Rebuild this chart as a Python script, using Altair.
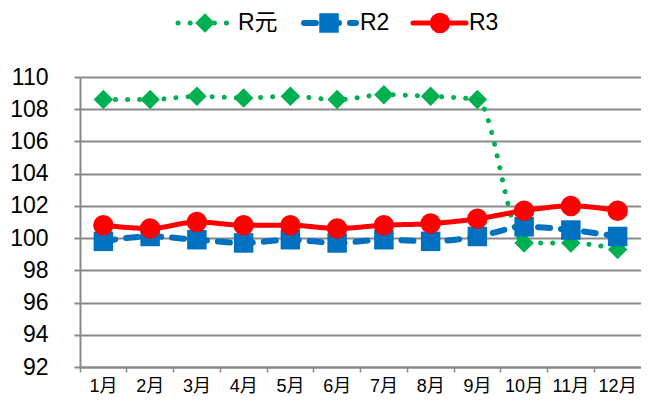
import altair as alt
import pandas as pd

months = ["1月", "2月", "3月", "4月", "5月", "6月", "7月", "8月", "9月", "10月", "11月", "12月"]
r_gen = [108.6, 108.6, 108.8, 108.7, 108.8, 108.6, 108.9, 108.8, 108.6, 99.7, 99.7, 99.3]
r2 = [99.8, 100.1, 99.9, 99.7, 99.9, 99.7, 99.9, 99.8, 100.1, 100.7, 100.5, 100.1]
r3 = [100.8, 100.6, 101.0, 100.8, 100.8, 100.6, 100.8, 100.9, 101.2, 101.7, 102.0, 101.7]
series_names = ["R元", "R2", "R3"]
y_ticks = [92, 94, 96, 98, 100, 102, 104, 106, 108, 110]

rows = []
for name, vals in zip(series_names, [r_gen, r2, r3]):
    for m, v in zip(months, vals):
        rows.append({"month": m, "value": v, "series": name})
df = pd.DataFrame(rows)

FONT = "Liberation Sans, Noto Sans CJK JP"
GRID = "#898989"

styles = {
    "R元": dict(color="#00B050", dash=[0.1, 12], width=5, shape="diamond", size=380),
    "R2": dict(color="#0070C0", dash=[12, 11], width=6, shape="square", size=380),
    "R3": dict(color="#FF0000", dash=[1, 0], width=5, shape="circle", size=420),
}
legend_pos = {
    "R元": dict(x0=98, x1=148, xm=125, xt=158),
    "R2": dict(x0=224, x1=276, xm=249, xt=280),
    "R3": dict(x0=333, x1=386, xm=360, xt=389),
}
LEG_Y = -54

x_enc = alt.X(
    "month:N",
    sort=months,
    scale=alt.Scale(type="band", paddingInner=0, paddingOuter=0),
    axis=alt.Axis(
        title=None, labelAngle=0, bandPosition=0, tickSize=5, tickWidth=1.5,
        tickColor=GRID, domainColor=GRID, domainWidth=2, labelFont=FONT,
        labelFontSize=18, labelColor="#000000", labelPadding=5, grid=False,
    ),
)
y_enc = alt.Y(
    "value:Q",
    scale=alt.Scale(domain=[92, 110], nice=False, zero=False),
    axis=alt.Axis(
        title=None, values=y_ticks, grid=True, gridColor=GRID, gridWidth=2,
        tickSize=6, tickColor=GRID, tickWidth=2, domainColor=GRID, domainWidth=2,
        labelFont=FONT, labelFontSize=23, labelColor="#000000", labelPadding=26,
    ),
)

layers = []
one = alt.Data(values=[{"k": 1}])
for name in series_names:
    s = styles[name]
    base = alt.Chart(df).transform_filter(alt.datum.series == name)
    layers.append(
        base.mark_line(
            color=s["color"], strokeWidth=s["width"], strokeDash=s["dash"],
            strokeCap="round", interpolate="monotone",
        ).encode(x=x_enc, y=y_enc)
    )
    layers.append(
        base.mark_point(
            shape=s["shape"], size=s["size"], filled=True, color=s["color"], opacity=1,
        ).encode(x=x_enc, y=y_enc)
    )
    p = legend_pos[name]
    layers.append(
        alt.Chart(one).mark_rule(
            color=s["color"], strokeWidth=s["width"], strokeDash=s["dash"], strokeCap="round",
        ).encode(x=alt.value(p["x0"]), x2=alt.value(p["x1"]), y=alt.value(LEG_Y))
    )
    layers.append(
        alt.Chart(one).mark_point(
            shape=s["shape"], size=s["size"], filled=True, color=s["color"], opacity=1,
        ).encode(x=alt.value(p["xm"]), y=alt.value(LEG_Y))
    )
    layers.append(
        alt.Chart(one).mark_text(
            text=name, font=FONT, fontSize=23, color="#000000", align="left", baseline="middle",
        ).encode(x=alt.value(p["xt"]), y=alt.value(LEG_Y))
    )

chart = alt.layer(*layers).properties(
    width=561,
    height=290,
    autosize=alt.AutoSizeParams(type="none"),
    padding={"left": 72, "top": 69, "right": 0, "bottom": 27},
    background="#ffffff",
).configure_view(stroke=None)

chart.save("out.html", embed_options={"renderer": "svg", "actions": False})
